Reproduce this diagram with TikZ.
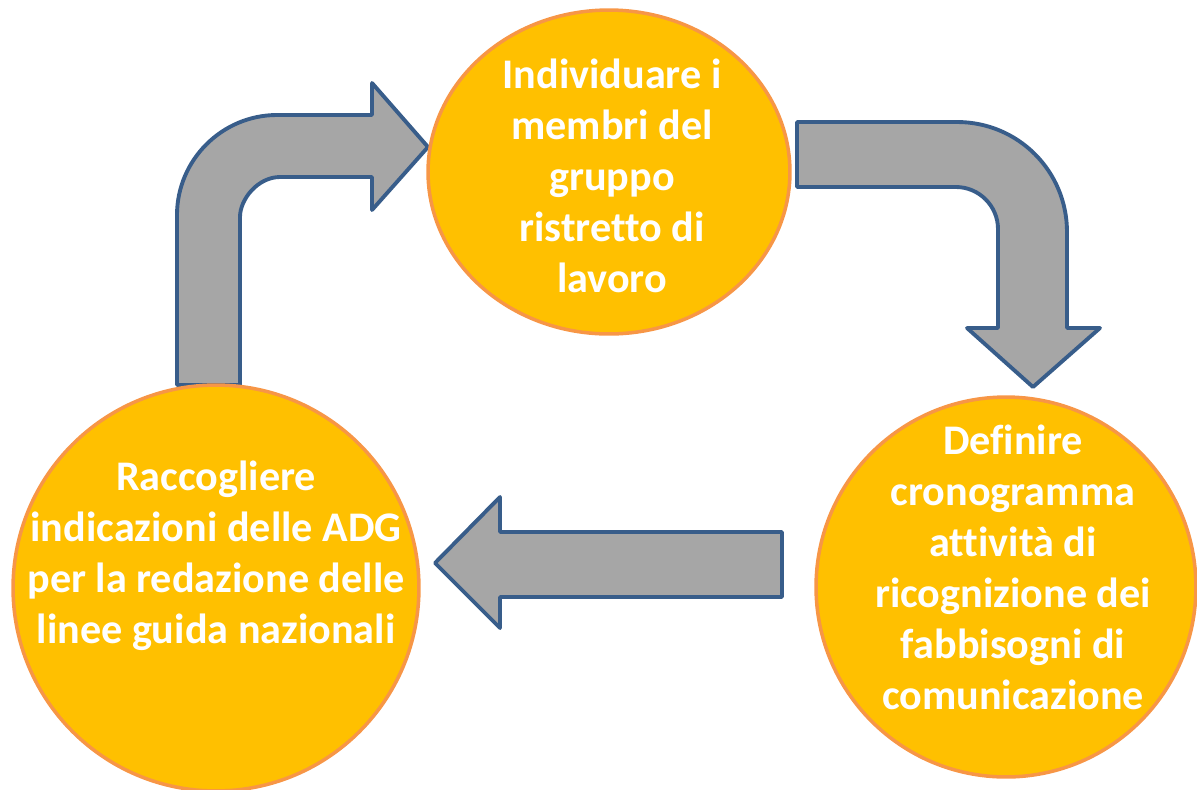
\documentclass[tikz,border=0pt]{standalone}
\usepackage{fontspec}
\setmainfont[Ligatures=NoCommon]{Carlito}
\usetikzlibrary{shapes.geometric}
\definecolor{fillyel}{HTML}{FFC000}
\definecolor{rimorange}{HTML}{F79646}
\definecolor{arrgray}{HTML}{A6A6A6}
\definecolor{arrblue}{HTML}{385D8A}

\begin{document}
\begin{tikzpicture}[x=0.02cm,y=-0.02cm,
  tappa/.style={ellipse,draw=rimorange,fill=fillyel,line width=2pt,inner sep=0pt},
  testo/.style={text=white,font=\fontsize{24}{29}\selectfont\bfseries,align=center},
  freccia/.style={fill=arrgray,draw=arrblue,line width=2.2pt,line join=round}]
\useasboundingbox (0,0) rectangle (1197,789);
% frecce
\draw[freccia](177,385)--(177,215)..controls(177,160)and(222,115)..(277,115)
  --(372,115)--(372,83)--(428,147)--(372,210)--(372,177)--(280,177)
  ..controls(258,177)and(240,199)..(240,217)--(240,385)--cycle;
\draw[freccia](797,122)--(957,122)..controls(1018,122)and(1067,171)..(1067,232)
  --(1067,328)--(1100,328)--(1033,387)--(967,328)--(998,328)--(998,229)
  ..controls(998,206)and(979,187)..(956,187)--(797,187)--cycle;
\draw[freccia](782,532)--(500,532)--(500,497)--(435,563)--(500,628)--(500,597)--(782,597)--cycle;
% cerchi
\node[tappa,minimum width=7.24cm,minimum height=6.48cm] (c1) at (609,172) {};
\node[tappa,minimum width=7.6cm,minimum height=7.6cm] (c2) at (1006,587) {};
\node[tappa,minimum width=8.12cm,minimum height=8.12cm] (c3) at (216,588) {};
\node[testo] (t1) at (612,176) {Individuare i\\membri del\\gruppo\\ristretto di\\lavoro};
\node[testo] (t2) at (1013,567) {Definire\\ cronogramma\\attività di\\ricognizione dei\\fabbisogni di\\comunicazione};
\node[testo] (t3) at (216,556) {Raccogliere\\indicazioni delle ADG\\per la redazione delle\\linee guida nazionali};
\end{tikzpicture}
\end{document}
